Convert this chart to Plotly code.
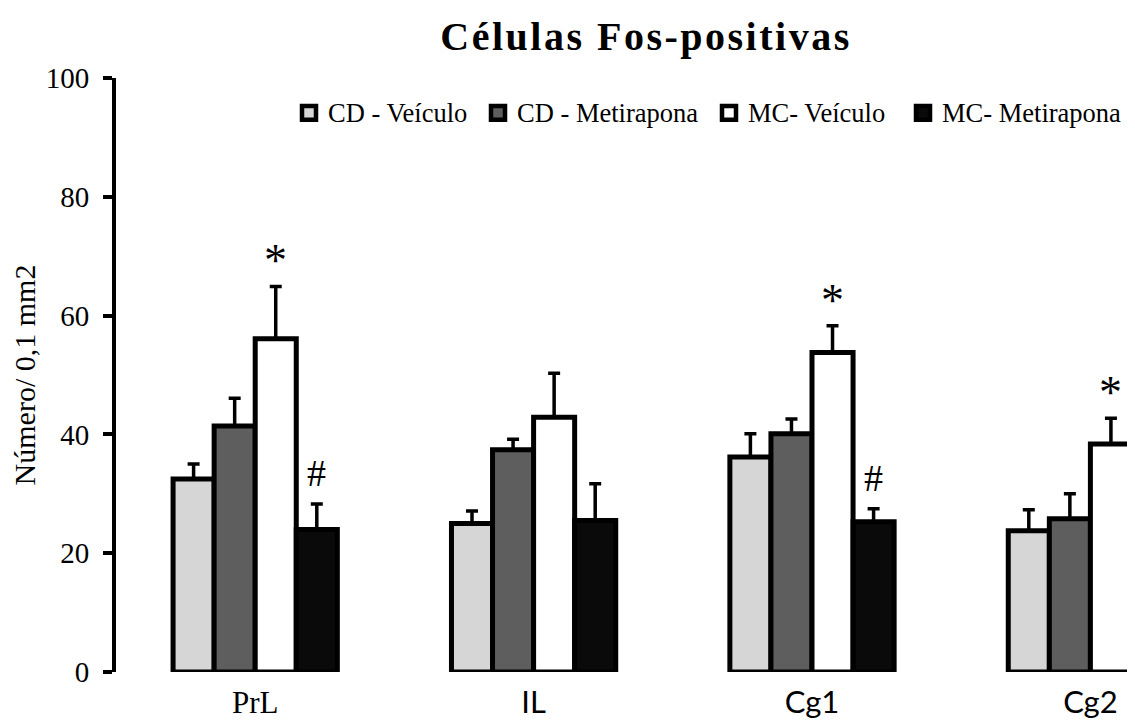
import plotly.graph_objects as go

# ---------------- data ----------------
regions = ["PrL", "IL", "Cg1", "Cg2"]
region_labels = [
    "<span style='font-family:Liberation Serif'>PrL</span>",
    "<span style='font-family:Lato'>IL</span>",
    "<span style='font-family:Lato'>Cg1</span>",
    "<span style='font-family:Lato'>Cg2</span>",
]
series_names = ["CD - Veículo", "CD - Metirapona", "MC- Veículo", "MC- Metirapona"]
series_colors = ["#d6d6d6", "#5e5e5e", "#ffffff", "#0a0a0a"]

cd_veiculo = [32.5, 25.0, 36.2, 23.8]
cd_metirapona = [41.4, 37.4, 40.1, 25.8]
mc_veiculo = [56.1, 42.9, 53.8, 38.4]
mc_metirapona = [24.0, 25.5, 25.3, 20.9]

cd_veiculo_err = [2.5, 2.1, 3.9, 3.5]
cd_metirapona_err = [4.7, 1.8, 2.5, 4.2]
mc_veiculo_err = [8.8, 7.4, 4.5, 4.3]
mc_metirapona_err = [4.3, 6.2, 2.2, 3.0]

means = [cd_veiculo, cd_metirapona, mc_veiculo, mc_metirapona]
errors = [cd_veiculo_err, cd_metirapona_err, mc_veiculo_err, mc_metirapona_err]

# significance marks: (region index, series index, symbol)
sig_marks = [(0, 2, "*"), (0, 3, "#"), (2, 2, "*"), (2, 3, "#"), (3, 2, "*")]

y_ticks = [0, 20, 40, 60, 80, 100]

# ---------------- layout constants ----------------
OFF = 8                      # page body margin
W, H = 1135 - OFF, 720 - OFF
PL, PR, PT, PB = 116, 1135, 78, 674   # plot area in window pixels
ML, MR, MT, MB = PL - OFF, 0, PT - OFF, H - (PB - OFF)
PW, PH = PR - PL, PB - PT
BARGAP = 0.41
NS = len(series_names)
BW = (1 - BARGAP) / NS
FONT = "Liberation Serif"
GROUP_PX = 278.4

x_pos = list(range(len(regions)))

fig = go.Figure()
for k in range(NS):
    fig.add_trace(go.Bar(
        x=x_pos, y=means[k], name=series_names[k],
        marker=dict(color=series_colors[k], line=dict(color="black", width=5)),
        error_y=dict(type="data", symmetric=False, array=errors[k],
                     arrayminus=[0] * len(regions),
                     color="black", thickness=3.5, width=6),
        showlegend=False,
    ))

# significance annotations
for (gi, si, sym) in sig_marks:
    xoff = -0.5 * (1 - BARGAP) + (si + 0.5) * BW
    top = means[si][gi] + errors[si][gi]
    if sym == "*":
        fs, ys = 46, -2
    else:
        fs, ys = 38, 8
    fig.add_annotation(x=gi + xoff, y=top, xref="x", yref="y", text=sym,
                       showarrow=False, yanchor="bottom", yshift=ys,
                       font=dict(family=FONT, size=fs, color="black"))

# manual legend (window pixel -> paper helpers)
def px_x(p):
    return (p - PL) / PW

def px_y(p):
    return (PB - p) / PH

leg_marker_left = [302, 491, 722, 916]
leg_y = 113
for k in range(NS):
    x0 = leg_marker_left[k]
    fig.add_shape(type="rect", xref="paper", yref="paper",
                  x0=px_x(x0), x1=px_x(x0 + 14), y0=px_y(leg_y + 7), y1=px_y(leg_y - 7),
                  fillcolor=series_colors[k], line=dict(color="black", width=4.5))
    fig.add_annotation(xref="paper", yref="paper", x=px_x(x0 + 24), y=px_y(leg_y),
                       xanchor="left", yanchor="middle", text=series_names[k],
                       showarrow=False, font=dict(family=FONT, size=26.5, color="black"))

fig.update_layout(
    width=W, height=H,
    margin=dict(l=ML, r=MR, t=MT, b=MB),
    paper_bgcolor="white", plot_bgcolor="white",
    barmode="group", bargap=BARGAP, bargroupgap=0,
    title=dict(text="<b><span style='letter-spacing:2.5px'>Células Fos-positivas</span></b>",
               x=px_x(646), xref="paper",
               xanchor="center", y=1 - (36 - OFF) / H, yref="container", yanchor="middle",
               font=dict(family=FONT, size=40, color="black")),
    font=dict(family=FONT, color="black"),
)
fig.update_xaxes(
    range=[-0.5, -0.5 + PW / GROUP_PX], tickmode="array", tickvals=x_pos, ticktext=region_labels,
    showline=False, showgrid=False, zeroline=False, ticks="",
    tickfont=dict(family=FONT, size=31, color="black"), ticklabelstandoff=9,
)
fig.update_yaxes(
    range=[0, 100], tickmode="array", tickvals=y_ticks,
    showline=True, linecolor="black", linewidth=4,
    ticks="outside", ticklen=9, tickwidth=3.5, tickcolor="black",
    showgrid=False, zeroline=False,
    tickfont=dict(family=FONT, size=29, color="black"), ticklabelstandoff=8,
    title=dict(text="Número/ 0,1 mm2", font=dict(family=FONT, size=30, color="black"), standoff=2),
)

fig.write_html("out.html")
